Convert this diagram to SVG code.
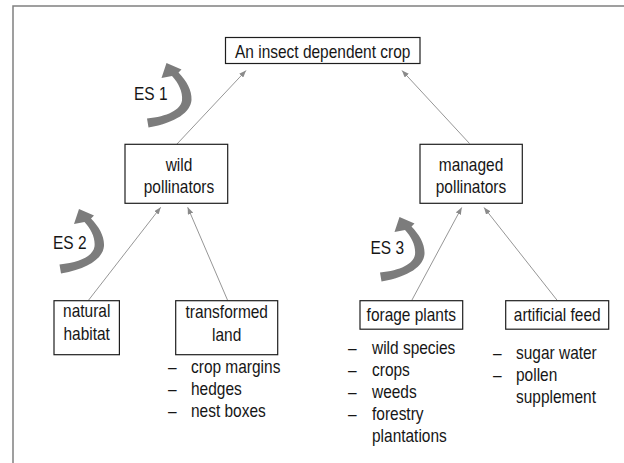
<svg xmlns="http://www.w3.org/2000/svg" xmlns:xlink="http://www.w3.org/1999/xlink" width="624" height="463" viewBox="0 0 624 463">
<style>
.t{font-family:"Liberation Sans",Arial,Helvetica,sans-serif;font-size:18px;fill:#161616}
.m{text-anchor:middle}
.box{fill:#fff;stroke:#1e1e1e;stroke-width:1.2}
.con{stroke:#8a8a8a;stroke-width:0.9;fill:none;marker-end:url(#ah)}
.es{fill:#7c7c7c}
</style>
<defs>
<marker id="ah" viewBox="0 0 10 8" refX="10" refY="4" markerWidth="7" markerHeight="5.6" markerUnits="userSpaceOnUse" orient="auto">
<path d="M0,0 L10,4 L0,8 Z" fill="#8a8a8a"/>
</marker>
<path id="esArrow" class="es" d="M79,209 L94,215.5 L91,218.5 C99,227 104.5,236 104,246 C103,258 89,268.5 61,273.5 L59.5,264.5 C80,262.5 93,256 94.5,246.5 C95.5,238 91,229 84.5,222 L74,224 Z"/>
</defs>
<rect width="624" height="463" fill="#fff"/>
<path d="M13,463 V6 H624" fill="none" stroke="#808080" stroke-width="1.5"/>

<g id="connectors">
<line class="con" x1="177" y1="144" x2="246" y2="70.5"/>
<line class="con" x1="469.5" y1="143.5" x2="402" y2="70.5"/>
<line class="con" x1="88.3" y1="300.5" x2="160.7" y2="207.3"/>
<line class="con" x1="227.7" y1="300.5" x2="187.7" y2="207.3"/>
<line class="con" x1="411.7" y1="300.5" x2="461.7" y2="207.5"/>
<line class="con" x1="557.3" y1="300.5" x2="484" y2="207.5"/>
</g>

<g id="es1">
<use xlink:href="#esArrow" href="#esArrow" transform="translate(87.5,-146)"/>
<text class="t" transform="translate(134,100) scale(0.86,1)">ES 1</text>
</g>
<g id="es2">
<use xlink:href="#esArrow" href="#esArrow"/>
<text class="t" transform="translate(53,249) scale(0.86,1)">ES 2</text>
</g>
<g id="es3">
<use xlink:href="#esArrow" href="#esArrow" transform="translate(320.5,8)"/>
<text class="t" transform="translate(370.5,254) scale(0.86,1)">ES 3</text>
</g>

<g id="crop">
<rect class="box" x="225.5" y="37.5" width="194.5" height="26"/>
<text class="t m" transform="translate(322.7,57.5) scale(0.86,1)">An insect dependent crop</text>
</g>
<g id="wild">
<rect class="box" x="125" y="144.3" width="102.7" height="59"/>
<text class="t m" transform="translate(179,170.5) scale(0.86,1)">wild</text>
<text class="t m" transform="translate(179,193.2) scale(0.86,1)">pollinators</text>
</g>
<g id="managed">
<rect class="box" x="420" y="144.3" width="102.3" height="59"/>
<text class="t m" transform="translate(471,170.5) scale(0.86,1)">managed</text>
<text class="t m" transform="translate(471,193.2) scale(0.86,1)">pollinators</text>
</g>
<g id="natural">
<rect class="box" x="54" y="300.7" width="65.4" height="54"/>
<text class="t m" transform="translate(86.7,317) scale(0.86,1)">natural</text>
<text class="t m" transform="translate(86.7,339.5) scale(0.86,1)">habitat</text>
</g>
<g id="transformed">
<rect class="box" x="175.7" y="300.7" width="102" height="54"/>
<text class="t m" transform="translate(226.7,318) scale(0.86,1)">transformed</text>
<text class="t m" transform="translate(226.7,340.5) scale(0.86,1)">land</text>
<text class="t" transform="translate(168,373) scale(0.86,1)">–</text>
<text class="t" transform="translate(191,373) scale(0.86,1)">crop margins</text>
<text class="t" transform="translate(168,395) scale(0.86,1)">–</text>
<text class="t" transform="translate(191,395) scale(0.86,1)">hedges</text>
<text class="t" transform="translate(168,417) scale(0.86,1)">–</text>
<text class="t" transform="translate(191,417) scale(0.86,1)">nest boxes</text>
</g>
<g id="forage">
<rect class="box" x="360" y="300.7" width="102.7" height="28.5"/>
<text class="t m" transform="translate(411.3,321) scale(0.86,1)">forage plants</text>
<text class="t" transform="translate(348,354) scale(0.86,1)">–</text>
<text class="t" transform="translate(372,354) scale(0.86,1)">wild species</text>
<text class="t" transform="translate(348,376) scale(0.86,1)">–</text>
<text class="t" transform="translate(372,376) scale(0.86,1)">crops</text>
<text class="t" transform="translate(348,398) scale(0.86,1)">–</text>
<text class="t" transform="translate(372,398) scale(0.86,1)">weeds</text>
<text class="t" transform="translate(348,420) scale(0.86,1)">–</text>
<text class="t" transform="translate(372,420) scale(0.86,1)">forestry</text>
<text class="t" transform="translate(372,442) scale(0.86,1)">plantations</text>
</g>
<g id="artificial">
<rect class="box" x="505.7" y="300.7" width="103" height="28.5"/>
<text class="t m" transform="translate(557.2,321) scale(0.86,1)">artificial feed</text>
<text class="t" transform="translate(493,359) scale(0.86,1)">–</text>
<text class="t" transform="translate(516,359) scale(0.86,1)">sugar water</text>
<text class="t" transform="translate(493,381) scale(0.86,1)">–</text>
<text class="t" transform="translate(516,381) scale(0.86,1)">pollen</text>
<text class="t" transform="translate(516,403) scale(0.86,1)">supplement</text>
</g>
</svg>
